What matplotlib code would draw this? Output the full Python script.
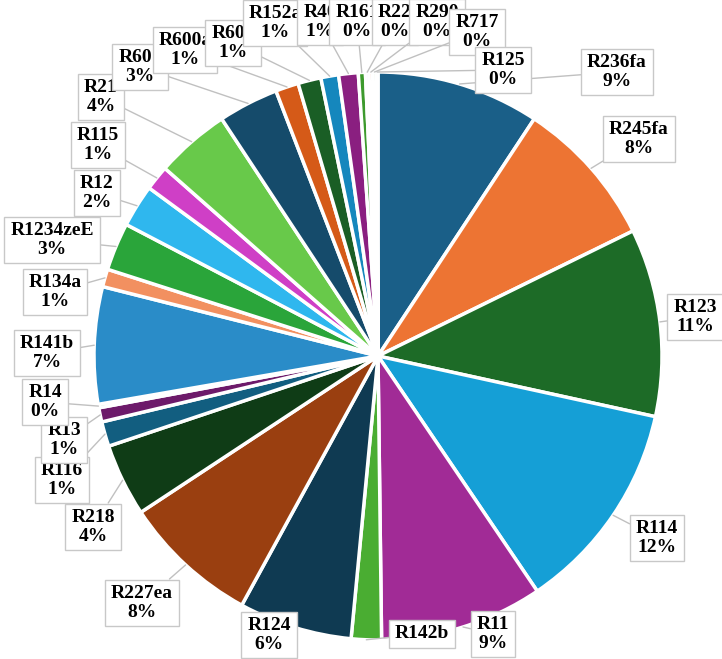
import numpy as np
import matplotlib
matplotlib.use("Agg")
import matplotlib.pyplot as plt

# --- 数据 (顺时针, 从12点方向开始) ---
names = ["R236fa", "R245fa", "R123", "R114", "R11", "R142b", "R124", "R227ea",
         "R218", "R116", "R13", "R14", "R141b", "R134a", "R1234zeE", "R12",
         "R115", "R21", "R601", "R600a", "R600", "R152a", "R40", "R161",
         "R22", "R290", "R717", "R125"]
shares = [9.2, 8.4, 10.6, 12.0, 9.2, 1.7, 6.4, 7.7,
          4.1, 1.4, 0.8, 0.2, 6.6, 1.0, 2.7, 2.4,
          1.4, 4.2, 3.4, 1.3, 1.3, 1.0, 1.1, 0.4,
          0.2, 0.2, 0.2, 0.1]
show_pct = [True] * len(names)
show_pct[names.index("R142b")] = False  # 原图中百分比被遮住

colors = ["#1a5f88", "#ed7433", "#1d6b27", "#159fd6", "#a12b96", "#4aad32",
          "#0f3a52", "#9a3f10", "#0f3c16", "#125e80", "#6d1a6a", "#3c8c2c",
          "#2a8cc8", "#f29060", "#2aa53a", "#2fb7ee", "#cf3fc6", "#68c94a",
          "#154b6b", "#d55a18", "#1a5e25", "#1587bd", "#8a1f80", "#3d9a2d",
          "#9bd3f0", "#f4a07a", "#7ed860", "#2a6f9a"]

# 标签框中心 (像素坐标, y 向下)
label_px = [(617, 72), (639, 139), (695, 317), (657, 538), (493, 634), (422, 634),
            (269, 635), (142, 603), (93, 527), (62, 480), (64, 440), (45, 402),
            (47, 353), (55, 292), (52, 240), (97, 193), (98, 145), (101, 97),
            (140, 67), (185, 50), (233, 43), (275, 23), (320, 22), (357, 22),
            (395, 22), (437, 22), (477, 32), (503, 70)]

W, H = 722, 659
cx, cy, R = 378, H - 356, 284

fig = plt.figure(figsize=(W / 100, H / 100), dpi=100)
ax = fig.add_axes([0, 0, 1, 1])

vals = np.array(shares)
ax.pie(vals, colors=colors, startangle=90, counterclock=False,
       center=(cx, cy), radius=R,
       wedgeprops=dict(edgecolor="white", linewidth=2.5))

frac = vals / vals.sum()
cum = np.cumsum(frac) - frac / 2
pcts = np.round(frac * 100).astype(int)

for i, name in enumerate(names):
    ang = np.deg2rad(90 - 360 * cum[i])
    px, py = cx + R * np.cos(ang), cy + R * np.sin(ang)
    tx, ty = label_px[i][0], H - label_px[i][1]
    txt = f"{name}\n{pcts[i]}%" if show_pct[i] else name
    ax.annotate(txt, xy=(px, py), xytext=(tx, ty),
                ha="center", va="center", fontsize=14,
                fontfamily="Liberation Serif", fontweight="bold",
                linespacing=1.1, color="black",
                bbox=dict(boxstyle="square,pad=0.3", fc="white",
                          ec="#c8c8c8", lw=1),
                arrowprops=dict(arrowstyle="-", color="#c0c0c0", lw=1,
                                shrinkA=0, shrinkB=0),
                zorder=10 + i, annotation_clip=False)

ax.set_xlim(0, W)
ax.set_ylim(0, H)
ax.set_aspect("equal")
ax.axis("off")

fig.savefig("out.png", dpi=100)
